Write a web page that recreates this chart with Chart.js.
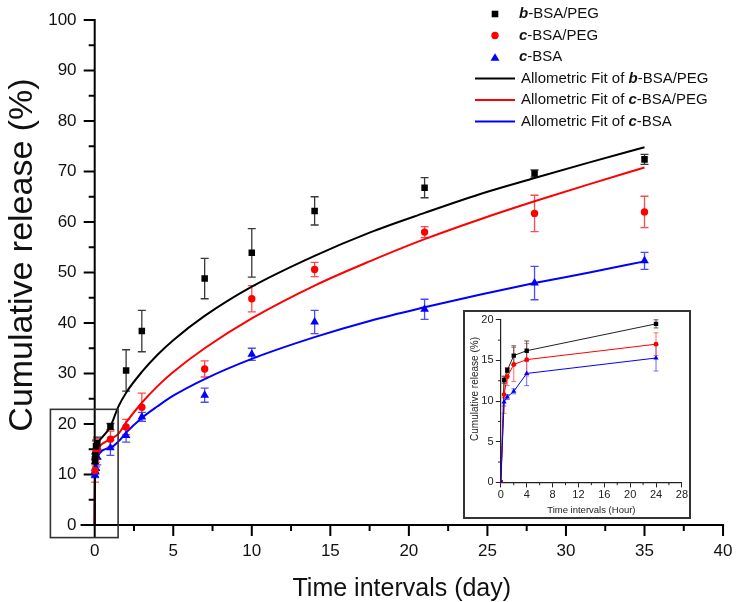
<!DOCTYPE html>
<html><head><meta charset="utf-8">
<script src="https://cdn.jsdelivr.net/npm/chart.js@4.4.0/dist/chart.umd.min.js"></script>
<style>
html,body{margin:0;padding:0;background:#fff;}
#wrap{position:relative;width:736px;height:602px;overflow:hidden;}
#main{position:absolute;left:0;top:0;}
#insetBox{position:absolute;left:463px;top:310px;width:224px;height:205px;border:2px solid #333;background:#fff;}
#inset{position:absolute;left:0;top:0;}
</style></head><body>
<div id="wrap"><canvas id="main" width="736" height="602"></canvas>
<div id="insetBox"><canvas id="inset" width="224" height="205"></canvas></div></div>
<script>
// ---------- data ----------
// main chart, time in days (first four = 0.5 h, 1 h, 2 h, 4 h)
const days   = [0.0208, 0.0417, 0.0833, 0.1667, 1, 2, 3, 7, 10, 14, 21, 28, 35];
const bRel   = [12.6, 13.8, 15.6, 16.2, 19.5, 30.6, 38.4, 48.8, 53.9, 62.2, 66.8, 69.6, 72.4];
const bErr   = [0.4, 0.3, 1.2, 1.2, 0.6, 4.1, 4.1, 4.0, 4.8, 2.8, 2.0, 0.7, 1.0];
const cRel   = [10.8, 13.0, 14.5, 15.1, 17.0, 19.4, 23.3, 30.9, 44.8, 50.6, 58.0, 61.7, 62.0];
const cErr   = [2.3, 1.1, 2.1, 2.0, 1.6, 1.5, 2.8, 1.6, 2.6, 1.4, 1.1, 3.6, 3.1];
const cbRel  = [9.9, 10.5, 11.2, 13.4, 15.3, 17.7, 21.4, 25.7, 33.8, 40.2, 42.7, 47.9, 52.3];
const cbErr  = [0.5, 0.3, 0.3, 1.5, 1.5, 1.3, 0.9, 1.4, 1.2, 2.3, 2.0, 3.3, 1.7];

// allometric fit curves
const fitX   = [0, 0.0208, 0.0417, 0.0833, 0.1667, 1, 1.5, 2, 3, 4, 5, 7, 10, 14, 17.5, 21, 24.5, 28, 31.5, 35];
const fitB   = [0, 12.6, 13.8, 15.6, 16.2, 19.5, 23.4, 26.2, 30.3, 33.7, 36.6, 41.4, 47.2, 53.3, 57.9, 61.8, 65.5, 68.7, 71.8, 74.8];
const fitC   = [0, 10.8, 13.0, 14.5, 15.1, 17.0, 18.0, 20.3, 24.2, 27.5, 30.3, 35.0, 40.9, 47.4, 52.2, 56.6, 60.5, 64.1, 67.5, 70.8];
const fitCB  = [0, 9.9, 10.5, 11.2, 13.4, 15.3, 16.5, 18.3, 21.2, 23.5, 25.6, 28.9, 32.9, 37.2, 40.4, 43.1, 45.6, 47.9, 50.0, 52.2];

// main tick labels
const xTickVals = [0, 5, 10, 15, 20, 25, 30, 35, 40];
const yTickVals = [0, 10, 20, 30, 40, 50, 60, 70, 80, 90, 100];

// inset chart, time in hours
const hours   = [0, 0.5, 1, 2, 4, 24];
const hB      = [0, 12.6, 13.8, 15.6, 16.2, 19.5];
const hBErr   = [0, 0.4, 0.3, 1.2, 1.2, 0.5];
const hC      = [0, 10.8, 13.0, 14.5, 15.1, 17.0];
const hCErr   = [0, 2.3, 1.1, 2.1, 2.0, 1.4];
const hCB     = [0, 9.9, 10.5, 11.2, 13.4, 15.3];
const hCBErr  = [0, 0.5, 0.3, 0.3, 1.5, 1.6];

const seriesPrefix = ['b', 'c', 'c'];
const seriesRest   = ['-BSA/PEG', '-BSA/PEG', '-BSA'];
const fitLabel     = 'Allometric Fit of ';
const xTitle = 'Time intervals (day)';
const yTitle = 'Cumulative release (%)';
const insetXTitle = 'Time intervals (Hour)';
const insetYTitle = 'Cumulative release (%)';

const BLACK = '#000000', RED = '#ff0000', BLUE = '#0000ff';
const FONT = "'Liberation Sans', Arial, Helvetica, sans-serif";

function pts(xs, ys){ return xs.map((x,i)=>({x:x, y:ys[i]})); }

// ---------- plugins ----------
const errorBarPlugin = {
  id: 'errorBars',
  beforeDatasetsDraw(chart, args, opts){
    const ctx = chart.ctx, ys = chart.scales.y;
    chart.data.datasets.forEach((ds, di) => {
      if (!ds.errors) return;
      const meta = chart.getDatasetMeta(di);
      ctx.save();
      ctx.strokeStyle = ds.errorColor; ctx.lineWidth = opts.width;
      meta.data.forEach((el, j) => {
        const e = ds.errors[j]; if (!e) return;
        const v = ds.data[j].y;
        const x = el.x, y1 = ys.getPixelForValue(v + e), y2 = ys.getPixelForValue(v - e), c = opts.cap;
        ctx.beginPath();
        ctx.moveTo(x, y1); ctx.lineTo(x, y2);
        ctx.moveTo(x - c, y1); ctx.lineTo(x + c, y1);
        ctx.moveTo(x - c, y2); ctx.lineTo(x + c, y2);
        ctx.stroke();
      });
      ctx.restore();
    });
  }
};

// vertical axis title drawn at its position in the reference
const sideTitlePlugin = {
  id: 'sideTitle',
  afterDraw(chart, args, opts){
    const ctx = chart.ctx;
    ctx.save();
    ctx.translate(opts.x, opts.y); ctx.rotate(-Math.PI / 2);
    ctx.font = opts.size + 'px ' + FONT; ctx.fillStyle = opts.color;
    ctx.textAlign = 'center'; ctx.textBaseline = 'middle';
    ctx.fillText(opts.text, 0, 0);
    ctx.restore();
  }
};

const mainAxesPlugin = {
  id: 'mainAxes',
  beforeDatasetsDraw(chart){
    const ctx = chart.ctx, x = chart.scales.x, y = chart.scales.y;
    const x0 = x.getPixelForValue(0), y0 = y.getPixelForValue(0);
    ctx.save();
    ctx.strokeStyle = '#000'; ctx.lineWidth = 2;
    ctx.beginPath();
    ctx.moveTo(x.getPixelForValue(x.min), y0); ctx.lineTo(x.getPixelForValue(40) + 1, y0);
    ctx.moveTo(x0, y.getPixelForValue(y.min)); ctx.lineTo(x0, y.getPixelForValue(100) - 1);
    for (let v = 0; v <= 40; v += 2.5) {
      const px = x.getPixelForValue(v), len = (v % 5 === 0) ? 11 : 6;
      ctx.moveTo(px, y0); ctx.lineTo(px, y0 + len);
    }
    for (let v = 0; v <= 100; v += 5) {
      const py = y.getPixelForValue(v), len = (v % 10 === 0) ? 11 : 6;
      ctx.moveTo(x0, py); ctx.lineTo(x0 - len, py);
    }
    ctx.stroke();
    ctx.restore();
  },
  afterDatasetsDraw(chart){
    const ctx = chart.ctx, x = chart.scales.x, y = chart.scales.y;
    // frame marking the early-time region shown in the inset
    const l = x.getPixelForValue(-2.82), r = x.getPixelForValue(1.49);
    const t = y.getPixelForValue(22.9), b = y.getPixelForValue(-2.5);
    ctx.save(); ctx.strokeStyle = '#333'; ctx.lineWidth = 1.6;
    ctx.strokeRect(l, t, r - l, b - t);
    ctx.restore();
  }
};

function drawTri(ctx, cx, cy, w, h){
  ctx.beginPath(); ctx.moveTo(cx, cy - h/2); ctx.lineTo(cx + w/2, cy + h/2); ctx.lineTo(cx - w/2, cy + h/2); ctx.closePath(); ctx.fill();
}

const legendPlugin = {
  id: 'customLegend',
  afterDraw(chart){
    const ctx = chart.ctx;
    const rowY = [14, 35.5, 57, 78.5, 100, 121.5];
    const colors = [BLACK, RED, BLUE];
    ctx.save();
    ctx.fillStyle = BLACK; ctx.fillRect(495 - 3.3, rowY[0] - 3.3, 6.6, 6.6);
    ctx.fillStyle = RED; ctx.beginPath(); ctx.arc(495, rowY[1], 3.7, 0, Math.PI*2); ctx.fill();
    ctx.fillStyle = BLUE; drawTri(ctx, 495, rowY[2], 9, 7.5);
    ctx.lineWidth = 2;
    for (let i = 0; i < 3; i++) {
      ctx.strokeStyle = colors[i];
      ctx.beginPath(); ctx.moveTo(475, rowY[3+i]); ctx.lineTo(515, rowY[3+i]); ctx.stroke();
    }
    ctx.fillStyle = '#111'; ctx.textBaseline = 'middle'; ctx.textAlign = 'left';
    const norm = '15px ' + FONT, bi = 'italic bold 15px ' + FONT;
    function seg(parts, x0, yy){
      let xx = x0;
      parts.forEach(p => { ctx.font = p[1]; ctx.fillText(p[0], xx, yy); xx += ctx.measureText(p[0]).width; });
    }
    for (let i = 0; i < 3; i++) {
      seg([[seriesPrefix[i], bi], [seriesRest[i], norm]], 519, rowY[i]);
      seg([[fitLabel, norm], [seriesPrefix[i], bi], [seriesRest[i], norm]], 521, rowY[3+i]);
    }
    ctx.restore();
  }
};

// ---------- main chart ----------
new Chart(document.getElementById('main').getContext('2d'), {
  type: 'scatter',
  data: { datasets: [
    { data: pts(fitX, fitB),  showLine: true, borderColor: BLACK, borderWidth: 2, pointRadius: 0, cubicInterpolationMode: 'monotone', order: 3 },
    { data: pts(fitX, fitC),  showLine: true, borderColor: RED,   borderWidth: 2, pointRadius: 0, cubicInterpolationMode: 'monotone', order: 3 },
    { data: pts(fitX, fitCB), showLine: true, borderColor: BLUE,  borderWidth: 2, pointRadius: 0, cubicInterpolationMode: 'monotone', order: 3 },
    { data: pts(days, bRel),  errors: bErr,  errorColor: '#3a3a3a', pointStyle: 'rect', pointRadius: 4.6, backgroundColor: BLACK, borderWidth: 0, order: 1 },
    { data: pts(days, cRel),  errors: cErr,  errorColor: '#ff4a4a', pointStyle: 'circle', pointRadius: 3.7, backgroundColor: RED, borderWidth: 0, order: 1 },
    { data: pts(days, cbRel), errors: cbErr, errorColor: '#4a4aff', pointStyle: 'triangle', pointRadius: 5, backgroundColor: BLUE, borderWidth: 0, order: 1 }
  ]},
  options: {
    responsive: false, animation: false, devicePixelRatio: 1,
    layout: { padding: { top: 20, right: 7, left: 44.2, bottom: 0 } },
    plugins: {
      legend: { display: false }, tooltip: { enabled: false },
      errorBars: { width: 1.3, cap: 4 },
      sideTitle: { text: yTitle, x: 22.5, y: 255, size: 34, color: '#111' }
    },
    scales: {
      x: {
        type: 'linear', min: -0.9, max: 40,
        afterBuildTicks: s => { s.ticks = xTickVals.map(v => ({ value: v })); },
        ticks: { autoSkip: false, maxRotation: 0, padding: 3.5, color: '#111', font: { family: FONT, size: 17 } },
        grid: { display: false, drawTicks: false }, border: { display: false },
        title: { display: true, text: xTitle, color: '#111', font: { family: FONT, size: 25, lineHeight: 1 }, padding: { top: 12, bottom: 0 } }
      },
      y: {
        type: 'linear', min: -2.5, max: 100,
        afterBuildTicks: s => { s.ticks = yTickVals.map(v => ({ value: v })); },
        ticks: { autoSkip: false, padding: 4, color: '#111', font: { family: FONT, size: 17 } },
        grid: { display: false, drawTicks: false }, border: { display: false },
        title: { display: false }
      }
    }
  },
  plugins: [errorBarPlugin, mainAxesPlugin, legendPlugin, sideTitlePlugin]
});

// ---------- inset chart ----------
const insetMinorTicks = {
  id: 'insetMinor',
  afterDraw(chart){
    const ctx = chart.ctx, x = chart.scales.x, y = chart.scales.y;
    const x0 = x.getPixelForValue(0), y0 = y.getPixelForValue(0);
    ctx.save(); ctx.strokeStyle = '#222'; ctx.lineWidth = 1;
    ctx.beginPath();
    for (let v = 2; v < 28; v += 4) { const px = x.getPixelForValue(v); ctx.moveTo(px, y0); ctx.lineTo(px, y0 + 2.8); }
    for (let v = 2.5; v < 20; v += 5) { const py = y.getPixelForValue(v); ctx.moveTo(x0, py); ctx.lineTo(x0 - 2.8, py); }
    ctx.stroke(); ctx.restore();
  }
};

new Chart(document.getElementById('inset').getContext('2d'), {
  type: 'scatter',
  data: { datasets: [
    { data: pts(hours, hCB), errors: hCBErr, errorColor: '#6a6aff', showLine: true, borderColor: BLUE, borderWidth: 1, pointStyle: 'triangle', pointRadius: 3, backgroundColor: BLUE, pointBorderWidth: 0 },
    { data: pts(hours, hC),  errors: hCErr,  errorColor: '#ff6a6a', showLine: true, borderColor: RED, borderWidth: 1, pointStyle: 'circle', pointRadius: 2.4, backgroundColor: RED, pointBorderWidth: 0 },
    { data: pts(hours, hB),  errors: hBErr,  errorColor: '#555555', showLine: true, borderColor: '#222', borderWidth: 1, pointStyle: 'rect', pointRadius: 3.1, backgroundColor: BLACK, pointBorderWidth: 0 }
  ]},
  options: {
    responsive: false, animation: false, devicePixelRatio: 1,
    layout: { padding: { top: 2, right: 7, left: 14, bottom: 0 } },
    plugins: {
      legend: { display: false }, tooltip: { enabled: false },
      errorBars: { width: 1, cap: 2.4 },
      sideTitle: { text: insetYTitle, x: 10, y: 77, size: 10, color: '#222' }
    },
    scales: {
      x: {
        type: 'linear', min: 0, max: 28,
        ticks: { stepSize: 4, autoSkip: false, maxRotation: 0, padding: 1, color: '#222', font: { family: FONT, size: 11 } },
        grid: { drawOnChartArea: false, drawTicks: true, tickLength: 5, color: '#222', tickWidth: 1 },
        border: { display: true, color: '#222', width: 1.2 },
        title: { display: true, text: insetXTitle, color: '#222', font: { family: FONT, size: 9.5, lineHeight: 1.2 }, padding: { top: 2, bottom: 1 } }
      },
      y: {
        type: 'linear', min: 0, max: 20,
        ticks: { stepSize: 5, autoSkip: false, padding: 2.3, color: '#222', font: { family: FONT, size: 11, lineHeight: 1 } },
        grid: { drawOnChartArea: false, drawTicks: true, tickLength: 5, color: '#222', tickWidth: 1 },
        border: { display: true, color: '#222', width: 1.2 },
        title: { display: false }
      }
    }
  },
  plugins: [errorBarPlugin, insetMinorTicks, sideTitlePlugin]
});
</script>
</body></html>
